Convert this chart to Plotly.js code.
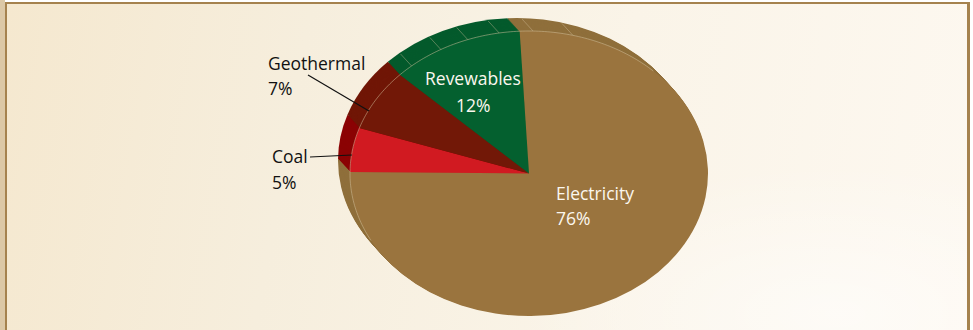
<!DOCTYPE html>
<html>
<head>
<meta charset="utf-8">
<script src="https://cdn.plot.ly/plotly-3.0.1.min.js"></script>
<style>
  html, body { margin: 0; padding: 0; width: 973px; height: 330px; overflow: hidden; background: #fff; }
  #edge { position: absolute; left: 0; top: 0; width: 5px; height: 330px; background: #dcc8a6; }
  #frame {
    position: absolute; left: 5px; top: 2px; width: 965px; height: 328px; box-sizing: border-box;
    border-top: 2px solid #a5824e; border-left: 2px solid #a5824e; border-right: 3px solid #a5824e;
    background:
      radial-gradient(ellipse 320px 150px at 830px 310px, rgba(255,255,255,0.55), rgba(255,255,255,0) 100%),
      linear-gradient(100deg, #f5e8cf 0%, #f6eedd 30%, #faf4e8 62%, #fdf8f0 100%);
  }
  #chart { position: absolute; left: 0; top: 0; width: 973px; height: 330px; }
</style>
</head>
<body>
<div id="edge"></div>
<div id="frame"></div>
<div id="chart"></div>
<script>
// Energy sources by share
const categories = ['Electricity', 'Coal', 'Geothermal', 'Revewables'];
const shares = [76, 5, 7, 12];
const faceColors = ['#9a743e', '#d11a21', '#721807', '#04602f'];
const rimColors = ['#8f6f3b', '#8b0304', '#701606', '#045a2c'];

// Disc geometry in page pixels
const W = 973, H = 330;
const CX = 529, CY = 173.5, RX = 179, RY = 142.5;
const DEPTH_X = -12, DEPTH_Y = -13, DEPTH_STEPS = 13;
const STRETCH = RX / RY;
const ROTATION = -3;

const px = x => x / W;
const py = y => 1 - y / H;

// One pie per depth step, back to front, forms the extruded rim
function disc(step) {
  const t = step / DEPTH_STEPS;
  const cx = CX + (DEPTH_X * t) / STRETCH;
  const cy = CY + DEPTH_Y * t;
  return {
    type: 'pie',
    labels: categories,
    values: shares,
    sort: false,
    direction: 'clockwise',
    rotation: ROTATION,
    textinfo: 'none',
    hoverinfo: 'label+percent',
    showlegend: false,
    marker: { colors: step === 0 ? faceColors : rimColors, line: { width: 0 } },
    domain: {
      x: [px(cx - RY), px(cx + RY)],
      y: [py(cy + RY), py(cy - RY)]
    }
  };
}
const traces = [];
for (let s = DEPTH_STEPS; s >= 0; s--) traces.push(disc(s));

// Point on the front ellipse, angle measured clockwise from north
function rimPoint(deg) {
  const a = deg * Math.PI / 180;
  return [CX + RX * Math.sin(a), CY - RY * Math.cos(a)];
}

// Pale highlight along the front edge where the rim shows
function arcPath(from, to) {
  let d = '';
  for (let a = from; a <= to; a += 1) {
    const p = rimPoint(a);
    d += (a === from ? 'M' : 'L') + px(p[0]).toFixed(5) + ',' + py(p[1]).toFixed(5);
  }
  return d;
}
const seamAngles = [-41, -29.5, -20, -9.6, 1.3, 14.2];
const seamColor = 'rgba(214,196,160,0.4)';

const shapes = [{
  type: 'path', xref: 'paper', yref: 'paper', path: arcPath(-118, 44),
  line: { color: 'rgba(214,196,160,0.5)', width: 1 }
}];
seamAngles.forEach(a => {
  const p = rimPoint(a);
  shapes.push({
    type: 'line', xref: 'paper', yref: 'paper',
    x0: px(p[0]), y0: py(p[1]), x1: px(p[0] + DEPTH_X + 1), y1: py(p[1] + DEPTH_Y + 1),
    line: { color: seamColor, width: 1 }
  });
});

// Leader lines from the outside labels to their slices
const leaders = [[308, 75, 369, 111], [310, 157, 352, 155]];
leaders.forEach(l => shapes.push({
  type: 'line', xref: 'paper', yref: 'paper',
  x0: px(l[0]), y0: py(l[1]), x1: px(l[2]), y1: py(l[3]),
  line: { color: '#111', width: 1.2 }
}));

// Label placement: left x or centre x, vertical centre of each of the two lines
const labelFont = '"Open Sans", "Noto Sans", sans-serif';
const labelSpec = {
  Electricity: { x: 556, y1: 193, y2: 218, anchor: 'left', color: '#fbf7ee' },
  Coal: { x: 272, y1: 156, y2: 182, anchor: 'left', color: '#111' },
  Geothermal: { x: 268, y1: 63, y2: 88, anchor: 'left', color: '#111' },
  Revewables: { x: 473, y1: 78, y2: 105, anchor: 'center', color: '#fbf7ee' }
};
const annotations = [];
categories.forEach((c, i) => {
  const s = labelSpec[c];
  [[c, s.y1], [shares[i] + '%', s.y2]].forEach(([text, y]) => annotations.push({
    xref: 'paper', yref: 'paper', x: px(s.x), y: py(y),
    xanchor: s.anchor, yanchor: 'middle', xshift: s.anchor === 'left' ? -2 : 0,
    text, showarrow: false,
    font: { family: labelFont, size: 17.5, color: s.color }
  }));
});

const layout = {
  width: W, height: H,
  margin: { l: 0, r: 0, t: 0, b: 0 },
  paper_bgcolor: 'rgba(0,0,0,0)',
  plot_bgcolor: 'rgba(0,0,0,0)',
  showlegend: false,
  shapes, annotations
};

const chart = document.getElementById('chart');
// Stretch the pies horizontally around the disc centre to give the tilted ellipse
function stretchPies() {
  const g = chart.querySelector('.pielayer');
  if (g) g.setAttribute('transform', `translate(${CX},0) scale(${STRETCH},1) translate(${-CX},0)`);
}
Plotly.newPlot(chart, traces, layout, { displayModeBar: false, staticPlot: true }).then(stretchPies);
</script>
</body>
</html>
